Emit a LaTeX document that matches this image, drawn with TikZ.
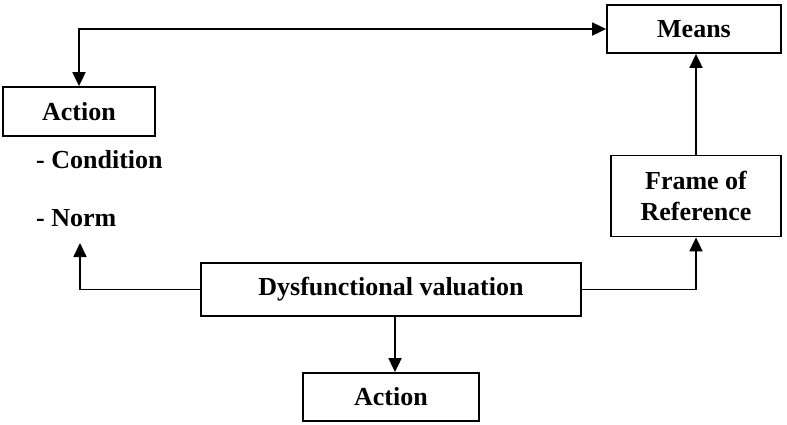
\documentclass[tikz,border=0pt]{standalone}
\usepackage{fontspec}
\setmainfont{Liberation Serif}
\usetikzlibrary{arrows.meta}
\begin{document}
\begin{tikzpicture}[x=1pt,y=-1pt,
  box/.style={draw,line width=1.8pt,inner sep=0pt,align=center,
    font=\fontsize{26}{31}\selectfont\bfseries},
  lbl/.style={inner sep=0pt,anchor=west,font=\fontsize{26}{31}\selectfont\bfseries},
  conn/.style={line width=1.8pt,-{Triangle[length=14pt,width=13pt]}},
  conn2/.style={line width=1.8pt,{Triangle[length=14pt,width=13pt]}-{Triangle[length=14pt,width=13pt]}}]
\useasboundingbox (0,0) rectangle (787,424);
\node[box,minimum width=174pt,minimum height=48pt] (means) at (694,29) {Means};
\node[box,minimum width=152pt,minimum height=49pt] (act1) at (79,111.5) {Action};
\node[lbl] (cond) at (36,160) {- Condition};
\node[lbl] (norm) at (36,218) {- Norm};
\node[box,minimum width=170pt,minimum height=81pt] (fr) at (696,196) {Frame of\\Reference};
\node[box,minimum width=380pt,minimum height=53pt] (dys) at (391,289.5) {Dysfunctional valuation};
\node[box,minimum width=176pt,minimum height=48pt] (act2) at (391,397) {Action};
\coordinate (lt) at (80,243);
\draw[conn2] (act1.north) |- (means.west);
\draw[conn] (fr.north) -- (fr.north |- means.south);
\draw[conn] (dys.west) -| (lt);
\draw[conn] (dys.east) -| (fr.south);
\draw[conn] ([xshift=4pt]dys.south) -- ([xshift=4pt]act2.north);
\end{tikzpicture}
\end{document}
